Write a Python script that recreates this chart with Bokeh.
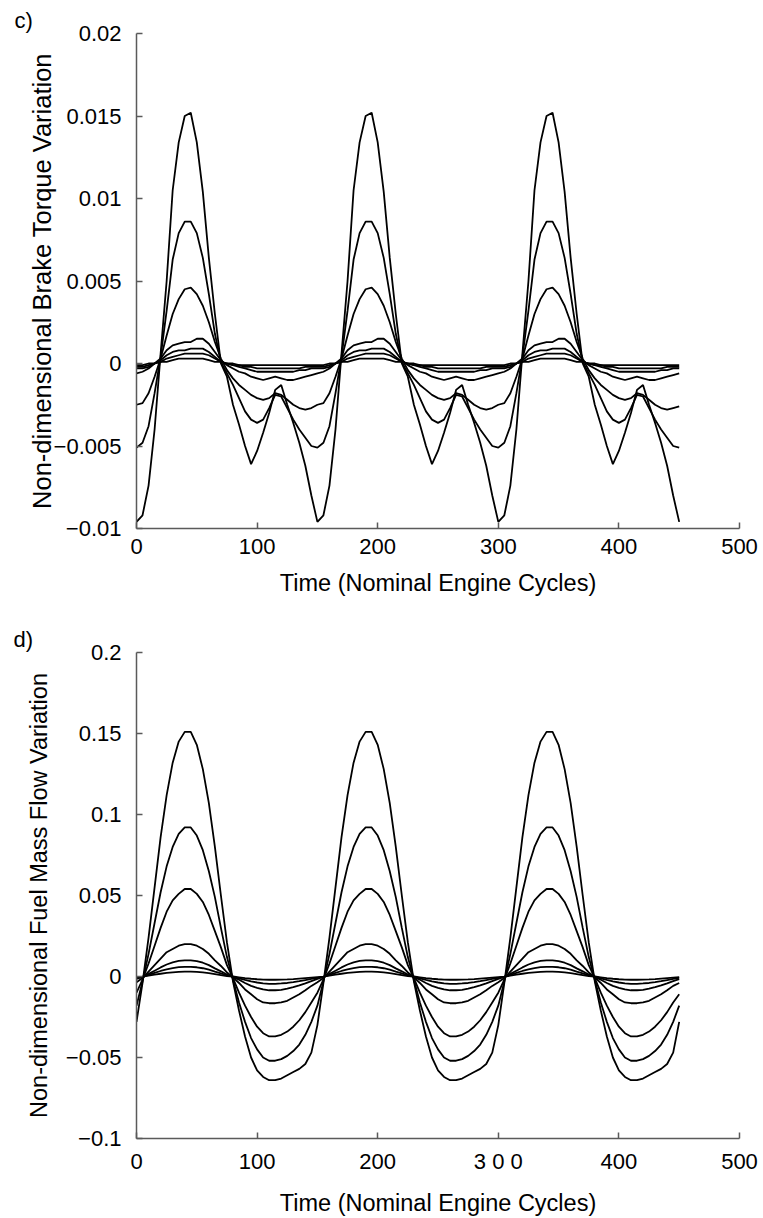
from bokeh.plotting import figure
from bokeh.layouts import column
from bokeh.models import Range1d, FixedTicker
from bokeh.embed import file_html
from bokeh.resources import INLINE

# time samples (nominal engine cycles)
t = [0, 5, 10, 15, 20, 25, 30, 35, 40, 45, 50, 55, 60, 65, 70, 75, 80, 85, 90, 95,
     100, 105, 110, 115, 120, 125, 130, 135, 140, 145,
     150, 155, 160, 165, 170, 175, 180, 185, 190, 195, 200, 205, 210, 215, 220, 225,
     230, 235, 240, 245, 250, 255, 260, 265, 270, 275, 280, 285, 290, 295,
     300, 305, 310, 315, 320, 325, 330, 335, 340, 345, 350, 355, 360, 365, 370, 375,
     380, 385, 390, 395, 400, 405, 410, 415, 420, 425, 430, 435, 440, 445,
     450]

# ---- panel c) brake torque variation ----
torque_a = [
    -0.0096, -0.0092, -0.0074, -0.0040, 0.0006, 0.0050, 0.0105, 0.0134, 0.0150, 0.0152, 0.0134, 0.0104, 0.0064, 0.0030, 0.0000, -0.0008, -0.0025, -0.0037, -0.0050, -0.0061, -0.0053, -0.0042, -0.0030, -0.0016, -0.0013, -0.0025, -0.0036, -0.0048, -0.0062, -0.0080,
    -0.0096, -0.0092, -0.0074, -0.0040, 0.0006, 0.0050, 0.0105, 0.0134, 0.0150, 0.0152, 0.0134, 0.0104, 0.0064, 0.0030, 0.0000, -0.0008, -0.0025, -0.0037, -0.0050, -0.0061, -0.0053, -0.0042, -0.0030, -0.0016, -0.0013, -0.0025, -0.0036, -0.0048, -0.0062, -0.0080,
    -0.0096, -0.0092, -0.0074, -0.0040, 0.0006, 0.0050, 0.0105, 0.0134, 0.0150, 0.0152, 0.0134, 0.0104, 0.0064, 0.0030, 0.0000, -0.0008, -0.0025, -0.0037, -0.0050, -0.0061, -0.0053, -0.0042, -0.0030, -0.0016, -0.0013, -0.0025, -0.0036, -0.0048, -0.0062, -0.0080,
    -0.0096]
torque_b = [
    -0.0051, -0.0048, -0.0038, -0.0018, 0.0004, 0.0032, 0.0063, 0.0079, 0.0086, 0.0086, 0.0079, 0.0064, 0.0042, 0.0018, 0.0001, -0.0006, -0.0013, -0.0021, -0.0029, -0.0034, -0.0036, -0.0034, -0.0027, -0.0019, -0.0020, -0.0027, -0.0034, -0.0040, -0.0045, -0.0050,
    -0.0051, -0.0048, -0.0038, -0.0018, 0.0004, 0.0032, 0.0063, 0.0079, 0.0086, 0.0086, 0.0079, 0.0064, 0.0042, 0.0018, 0.0001, -0.0006, -0.0013, -0.0021, -0.0029, -0.0034, -0.0036, -0.0034, -0.0027, -0.0019, -0.0020, -0.0027, -0.0034, -0.0040, -0.0045, -0.0050,
    -0.0051, -0.0048, -0.0038, -0.0018, 0.0004, 0.0032, 0.0063, 0.0079, 0.0086, 0.0086, 0.0079, 0.0064, 0.0042, 0.0018, 0.0001, -0.0006, -0.0013, -0.0021, -0.0029, -0.0034, -0.0036, -0.0034, -0.0027, -0.0019, -0.0020, -0.0027, -0.0034, -0.0040, -0.0045, -0.0050,
    -0.0051]
torque_c = [
    -0.0025, -0.0024, -0.0018, -0.0008, 0.0003, 0.0017, 0.0030, 0.0039, 0.0045, 0.0046, 0.0042, 0.0035, 0.0025, 0.0013, 0.0003, -0.0004, -0.0009, -0.0013, -0.0016, -0.0019, -0.0021, -0.0022, -0.0021, -0.0018, -0.0019, -0.0022, -0.0025, -0.0027, -0.0028, -0.0027,
    -0.0025, -0.0024, -0.0018, -0.0008, 0.0003, 0.0017, 0.0030, 0.0039, 0.0045, 0.0046, 0.0042, 0.0035, 0.0025, 0.0013, 0.0003, -0.0004, -0.0009, -0.0013, -0.0016, -0.0019, -0.0021, -0.0022, -0.0021, -0.0018, -0.0019, -0.0022, -0.0025, -0.0027, -0.0028, -0.0027,
    -0.0025, -0.0024, -0.0018, -0.0008, 0.0003, 0.0017, 0.0030, 0.0039, 0.0045, 0.0046, 0.0042, 0.0035, 0.0025, 0.0013, 0.0003, -0.0004, -0.0009, -0.0013, -0.0016, -0.0019, -0.0021, -0.0022, -0.0021, -0.0018, -0.0019, -0.0022, -0.0025, -0.0027, -0.0028, -0.0027,
    -0.0026]
torque_d = [
    -0.0006, -0.0005, -0.0003, 0.0000, 0.0003, 0.0008, 0.0011, 0.0012, 0.0013, 0.0013, 0.0015, 0.0015, 0.0012, 0.0007, 0.0002, -0.0001, -0.0003, -0.0005, -0.0006, -0.0008, -0.0009, -0.0010, -0.0009, -0.0008, -0.0009, -0.0010, -0.0010, -0.0009, -0.0008, -0.0007,
    -0.0006, -0.0005, -0.0003, 0.0000, 0.0003, 0.0008, 0.0011, 0.0012, 0.0013, 0.0013, 0.0015, 0.0015, 0.0012, 0.0007, 0.0002, -0.0001, -0.0003, -0.0005, -0.0006, -0.0008, -0.0009, -0.0010, -0.0009, -0.0008, -0.0009, -0.0010, -0.0010, -0.0009, -0.0008, -0.0007,
    -0.0006, -0.0005, -0.0003, 0.0000, 0.0003, 0.0008, 0.0011, 0.0012, 0.0013, 0.0013, 0.0015, 0.0015, 0.0012, 0.0007, 0.0002, -0.0001, -0.0003, -0.0005, -0.0006, -0.0008, -0.0009, -0.0010, -0.0009, -0.0008, -0.0009, -0.0010, -0.0010, -0.0009, -0.0008, -0.0007,
    -0.0006]
torque_e = [
    -0.0003, -0.0003, -0.0002, 0.0000, 0.0002, 0.0005, 0.0007, 0.0008, 0.0008, 0.0009, 0.0009, 0.0009, 0.0007, 0.0004, 0.0001, 0.0000, -0.0001, -0.0002, -0.0003, -0.0004, -0.0005, -0.0005, -0.0005, -0.0005, -0.0005, -0.0005, -0.0005, -0.0004, -0.0004, -0.0003,
    -0.0003, -0.0003, -0.0002, 0.0000, 0.0002, 0.0005, 0.0007, 0.0008, 0.0008, 0.0009, 0.0009, 0.0009, 0.0007, 0.0004, 0.0001, 0.0000, -0.0001, -0.0002, -0.0003, -0.0004, -0.0005, -0.0005, -0.0005, -0.0005, -0.0005, -0.0005, -0.0005, -0.0004, -0.0004, -0.0003,
    -0.0003, -0.0003, -0.0002, 0.0000, 0.0002, 0.0005, 0.0007, 0.0008, 0.0008, 0.0009, 0.0009, 0.0009, 0.0007, 0.0004, 0.0001, 0.0000, -0.0001, -0.0002, -0.0003, -0.0004, -0.0005, -0.0005, -0.0005, -0.0005, -0.0005, -0.0005, -0.0005, -0.0004, -0.0004, -0.0003,
    -0.0003]
torque_f = [
    -0.0002, -0.0002, -0.0001, 0.0000, 0.0001, 0.0003, 0.0004, 0.0005, 0.0006, 0.0006, 0.0006, 0.0006, 0.0005, 0.0003, 0.0001, 0.0000, -0.0001, -0.0001, -0.0002, -0.0002, -0.0003, -0.0003, -0.0003, -0.0003, -0.0003, -0.0003, -0.0003, -0.0003, -0.0002, -0.0002,
    -0.0002, -0.0002, -0.0001, 0.0000, 0.0001, 0.0003, 0.0004, 0.0005, 0.0006, 0.0006, 0.0006, 0.0006, 0.0005, 0.0003, 0.0001, 0.0000, -0.0001, -0.0001, -0.0002, -0.0002, -0.0003, -0.0003, -0.0003, -0.0003, -0.0003, -0.0003, -0.0003, -0.0003, -0.0002, -0.0002,
    -0.0002, -0.0002, -0.0001, 0.0000, 0.0001, 0.0003, 0.0004, 0.0005, 0.0006, 0.0006, 0.0006, 0.0006, 0.0005, 0.0003, 0.0001, 0.0000, -0.0001, -0.0001, -0.0002, -0.0002, -0.0003, -0.0003, -0.0003, -0.0003, -0.0003, -0.0003, -0.0003, -0.0003, -0.0002, -0.0002,
    -0.0002]
torque_g = [
    -0.0001, -0.0001, 0.0000, 0.0000, 0.0001, 0.0001, 0.0002, 0.0003, 0.0003, 0.0003, 0.0003, 0.0003, 0.0002, 0.0001, 0.0001, 0.0000, 0.0000, -0.0001, -0.0001, -0.0001, -0.0001, -0.0001, -0.0001, -0.0001, -0.0001, -0.0001, -0.0001, -0.0001, -0.0001, -0.0001,
    -0.0001, -0.0001, 0.0000, 0.0000, 0.0001, 0.0001, 0.0002, 0.0003, 0.0003, 0.0003, 0.0003, 0.0003, 0.0002, 0.0001, 0.0001, 0.0000, 0.0000, -0.0001, -0.0001, -0.0001, -0.0001, -0.0001, -0.0001, -0.0001, -0.0001, -0.0001, -0.0001, -0.0001, -0.0001, -0.0001,
    -0.0001, -0.0001, 0.0000, 0.0000, 0.0001, 0.0001, 0.0002, 0.0003, 0.0003, 0.0003, 0.0003, 0.0003, 0.0002, 0.0001, 0.0001, 0.0000, 0.0000, -0.0001, -0.0001, -0.0001, -0.0001, -0.0001, -0.0001, -0.0001, -0.0001, -0.0001, -0.0001, -0.0001, -0.0001, -0.0001,
    -0.0001]

# ---- panel d) fuel mass flow variation ----
fuel_1 = [
    -0.028, -0.004, 0.024, 0.055, 0.086, 0.112, 0.132, 0.145, 0.151, 0.151, 0.143, 0.128, 0.107, 0.080, 0.050, 0.021, -0.003, -0.021, -0.037, -0.050, -0.058, -0.062, -0.064, -0.064, -0.063, -0.061, -0.059, -0.057, -0.054, -0.047,
    -0.030, -0.004, 0.024, 0.055, 0.086, 0.112, 0.132, 0.145, 0.151, 0.151, 0.143, 0.128, 0.107, 0.080, 0.050, 0.021, -0.003, -0.021, -0.037, -0.050, -0.058, -0.062, -0.064, -0.064, -0.063, -0.061, -0.059, -0.057, -0.054, -0.047,
    -0.030, -0.004, 0.024, 0.055, 0.086, 0.112, 0.132, 0.145, 0.151, 0.151, 0.143, 0.128, 0.107, 0.080, 0.050, 0.021, -0.003, -0.021, -0.037, -0.050, -0.058, -0.062, -0.064, -0.064, -0.063, -0.061, -0.059, -0.057, -0.054, -0.047,
    -0.028]
fuel_2 = [
    -0.018, -0.003, 0.014, 0.033, 0.052, 0.068, 0.080, 0.088, 0.092, 0.092, 0.087, 0.078, 0.065, 0.049, 0.030, 0.012, -0.002, -0.016, -0.028, -0.038, -0.045, -0.050, -0.052, -0.052, -0.051, -0.049, -0.046, -0.042, -0.036, -0.028,
    -0.018, -0.003, 0.014, 0.033, 0.052, 0.068, 0.080, 0.088, 0.092, 0.092, 0.087, 0.078, 0.065, 0.049, 0.030, 0.012, -0.002, -0.016, -0.028, -0.038, -0.045, -0.050, -0.052, -0.052, -0.051, -0.049, -0.046, -0.042, -0.036, -0.028,
    -0.018, -0.003, 0.014, 0.033, 0.052, 0.068, 0.080, 0.088, 0.092, 0.092, 0.087, 0.078, 0.065, 0.049, 0.030, 0.012, -0.002, -0.016, -0.028, -0.038, -0.045, -0.050, -0.052, -0.052, -0.051, -0.049, -0.046, -0.042, -0.036, -0.028,
    -0.018]
fuel_3 = [
    -0.010, -0.002, 0.008, 0.019, 0.030, 0.040, 0.047, 0.051, 0.054, 0.054, 0.051, 0.046, 0.038, 0.028, 0.018, 0.007, -0.001, -0.010, -0.018, -0.025, -0.031, -0.035, -0.037, -0.037, -0.036, -0.034, -0.031, -0.027, -0.022, -0.016,
    -0.010, -0.002, 0.008, 0.019, 0.030, 0.040, 0.047, 0.051, 0.054, 0.054, 0.051, 0.046, 0.038, 0.028, 0.018, 0.007, -0.001, -0.010, -0.018, -0.025, -0.031, -0.035, -0.037, -0.037, -0.036, -0.034, -0.031, -0.027, -0.022, -0.016,
    -0.010, -0.002, 0.008, 0.019, 0.030, 0.040, 0.047, 0.051, 0.054, 0.054, 0.051, 0.046, 0.038, 0.028, 0.018, 0.007, -0.001, -0.010, -0.018, -0.025, -0.031, -0.035, -0.037, -0.037, -0.036, -0.034, -0.031, -0.027, -0.022, -0.016,
    -0.011]
fuel_4 = [
    -0.0035, -0.001, 0.003, 0.007, 0.011, 0.015, 0.017, 0.019, 0.020, 0.020, 0.019, 0.017, 0.014, 0.010, 0.0065, 0.0025, -0.0005, -0.004, -0.008, -0.011, -0.014, -0.016, -0.0165, -0.0165, -0.016, -0.015, -0.013, -0.011, -0.0085, -0.0058,
    -0.0035, -0.001, 0.003, 0.007, 0.011, 0.015, 0.017, 0.019, 0.020, 0.020, 0.019, 0.017, 0.014, 0.010, 0.0065, 0.0025, -0.0005, -0.004, -0.008, -0.011, -0.014, -0.016, -0.0165, -0.0165, -0.016, -0.015, -0.013, -0.011, -0.0085, -0.0058,
    -0.0035, -0.001, 0.003, 0.007, 0.011, 0.015, 0.017, 0.019, 0.020, 0.020, 0.019, 0.017, 0.014, 0.010, 0.0065, 0.0025, -0.0005, -0.004, -0.008, -0.011, -0.014, -0.016, -0.0165, -0.0165, -0.016, -0.015, -0.013, -0.011, -0.0085, -0.0058,
    -0.004]
fuel_5 = [
    -0.0015, -0.0003, 0.0016, 0.0036, 0.0056, 0.0074, 0.0087, 0.0096, 0.0100, 0.0100, 0.0095, 0.0085, 0.0070, 0.0050, 0.0032, 0.0012, -0.0002, -0.0020, -0.0040, -0.0058, -0.0070, -0.0080, -0.0085, -0.0085, -0.0082, -0.0075, -0.0066, -0.0055, -0.0042, -0.0028,
    -0.0015, -0.0003, 0.0016, 0.0036, 0.0056, 0.0074, 0.0087, 0.0096, 0.0100, 0.0100, 0.0095, 0.0085, 0.0070, 0.0050, 0.0032, 0.0012, -0.0002, -0.0020, -0.0040, -0.0058, -0.0070, -0.0080, -0.0085, -0.0085, -0.0082, -0.0075, -0.0066, -0.0055, -0.0042, -0.0028,
    -0.0015, -0.0003, 0.0016, 0.0036, 0.0056, 0.0074, 0.0087, 0.0096, 0.0100, 0.0100, 0.0095, 0.0085, 0.0070, 0.0050, 0.0032, 0.0012, -0.0002, -0.0020, -0.0040, -0.0058, -0.0070, -0.0080, -0.0085, -0.0085, -0.0082, -0.0075, -0.0066, -0.0055, -0.0042, -0.0028,
    -0.0016]
fuel_6 = [
    -0.0008, -0.0002, 0.0010, 0.0022, 0.0034, 0.0044, 0.0052, 0.0058, 0.0060, 0.0060, 0.0057, 0.0051, 0.0042, 0.0030, 0.0019, 0.0007, -0.0001, -0.0011, -0.0021, -0.0030, -0.0037, -0.0042, -0.0045, -0.0045, -0.0043, -0.0040, -0.0035, -0.0029, -0.0022, -0.0015,
    -0.0008, -0.0002, 0.0010, 0.0022, 0.0034, 0.0044, 0.0052, 0.0058, 0.0060, 0.0060, 0.0057, 0.0051, 0.0042, 0.0030, 0.0019, 0.0007, -0.0001, -0.0011, -0.0021, -0.0030, -0.0037, -0.0042, -0.0045, -0.0045, -0.0043, -0.0040, -0.0035, -0.0029, -0.0022, -0.0015,
    -0.0008, -0.0002, 0.0010, 0.0022, 0.0034, 0.0044, 0.0052, 0.0058, 0.0060, 0.0060, 0.0057, 0.0051, 0.0042, 0.0030, 0.0019, 0.0007, -0.0001, -0.0011, -0.0021, -0.0030, -0.0037, -0.0042, -0.0045, -0.0045, -0.0043, -0.0040, -0.0035, -0.0029, -0.0022, -0.0015,
    -0.0008]
fuel_7 = [
    -0.0004, -0.0001, 0.0005, 0.0011, 0.0017, 0.0022, 0.0026, 0.0029, 0.0030, 0.0030, 0.0028, 0.0025, 0.0021, 0.0015, 0.0009, 0.0003, 0.0000, -0.0005, -0.0010, -0.0014, -0.0017, -0.0019, -0.0020, -0.0020, -0.0019, -0.0018, -0.0016, -0.0013, -0.0010, -0.0007,
    -0.0004, -0.0001, 0.0005, 0.0011, 0.0017, 0.0022, 0.0026, 0.0029, 0.0030, 0.0030, 0.0028, 0.0025, 0.0021, 0.0015, 0.0009, 0.0003, 0.0000, -0.0005, -0.0010, -0.0014, -0.0017, -0.0019, -0.0020, -0.0020, -0.0019, -0.0018, -0.0016, -0.0013, -0.0010, -0.0007,
    -0.0004, -0.0001, 0.0005, 0.0011, 0.0017, 0.0022, 0.0026, 0.0029, 0.0030, 0.0030, 0.0028, 0.0025, 0.0021, 0.0015, 0.0009, 0.0003, 0.0000, -0.0005, -0.0010, -0.0014, -0.0017, -0.0019, -0.0020, -0.0020, -0.0019, -0.0018, -0.0016, -0.0013, -0.0010, -0.0007,
    -0.0004]

# ticks and labels
x_ticks = [0, 100, 200, 300, 400, 500]
x_labels_c = ["0", "100", "200", "300", "400", "500"]
x_labels_d = ["0", "100", "200", "3 0 0", "400", "500"]
y_ticks_c = [-0.01, -0.005, 0, 0.005, 0.01, 0.015, 0.02]
y_labels_c = ["\u22120.01", "\u22120.005", "0", "0.005", "0.01", "0.015", "0.02"]
y_ticks_d = [-0.1, -0.05, 0, 0.05, 0.1, 0.15, 0.2]
y_labels_d = ["\u22120.1", "\u22120.05", "0", "0.05", "0.1", "0.15", "0.2"]

FONT = "Liberation Sans"
AXIS_COLOR = "#5a5a5a"


def style_axes(p, xlabels, yticks, ylabels, xtitle, ytitle, ytitle_size, ytitle_standoff, panel):
    p.grid.visible = False
    p.outline_line_color = None
    p.background_fill_color = "white"
    p.border_fill_color = "white"
    p.xaxis.ticker = FixedTicker(ticks=x_ticks)
    p.yaxis.ticker = FixedTicker(ticks=yticks)
    p.xaxis.major_label_overrides = {k: v for k, v in zip(x_ticks, xlabels)}
    p.yaxis.major_label_overrides = {k: v for k, v in zip(yticks, ylabels)}
    for ax in (p.xaxis[0], p.yaxis[0]):
        ax.axis_line_color = AXIS_COLOR
        ax.axis_line_width = 1.5
        ax.major_tick_line_color = AXIS_COLOR
        ax.major_tick_line_width = 1.5
        ax.major_tick_in = 6
        ax.major_tick_out = 0
        ax.minor_tick_line_color = None
        ax.major_label_text_font = FONT
        ax.major_label_text_font_size = "22px"
        ax.major_label_text_color = "black"
        ax.axis_label_text_font = FONT
        ax.axis_label_text_font_style = "normal"
        ax.axis_label_text_color = "black"
    p.xaxis.axis_label = xtitle
    p.yaxis.axis_label = ytitle
    p.xaxis.axis_label_text_font_size = "23.5px"
    p.yaxis.axis_label_text_font_size = ytitle_size
    p.xaxis.major_label_standoff = 10
    p.xaxis.axis_label_standoff = 13
    p.yaxis.major_label_standoff = 15
    p.yaxis.axis_label_standoff = ytitle_standoff
    # panel letter as a left-aligned title above the frame
    p.title.text = panel
    p.title.align = "left"
    p.title.text_font = FONT
    p.title.text_font_size = "22px"
    p.title.text_font_style = "normal"
    p.title.text_color = "black"
    p.title.standoff = 2


p1 = figure(width=763, height=600, x_range=Range1d(0, 500), y_range=Range1d(-0.01, 0.02),
            output_backend="svg", toolbar_location=None,
            min_border_left=135, min_border_right=24, min_border_top=33, min_border_bottom=72)
style_axes(p1, x_labels_c, y_ticks_c, y_labels_c,
           "Time (Nominal Engine Cycles)", "Non-dimensional Brake Torque Variation",
           "25.5px", -5, "c)")
p1.title.offset = -122
for series in (torque_a, torque_b, torque_c, torque_d, torque_e, torque_f, torque_g):
    p1.line(t, series, line_color="black", line_width=1.8)

p2 = figure(width=763, height=618, x_range=Range1d(0, 500), y_range=Range1d(-0.1, 0.2),
            output_backend="svg", toolbar_location=None,
            min_border_left=136, min_border_right=14, min_border_top=52, min_border_bottom=75)
style_axes(p2, x_labels_d, y_ticks_d, y_labels_d,
           "Time (Nominal Engine Cycles)", "Non-dimensional Fuel Mass Flow Variation",
           "23.5px", 11, "d)")
p2.title.offset = -123
for series in (fuel_1, fuel_2, fuel_3, fuel_4, fuel_5, fuel_6, fuel_7):
    p2.line(t, series, line_color="black", line_width=1.8)

layout = column(p1, p2, spacing=0)
open("out.html", "w").write(file_html(layout, INLINE))
